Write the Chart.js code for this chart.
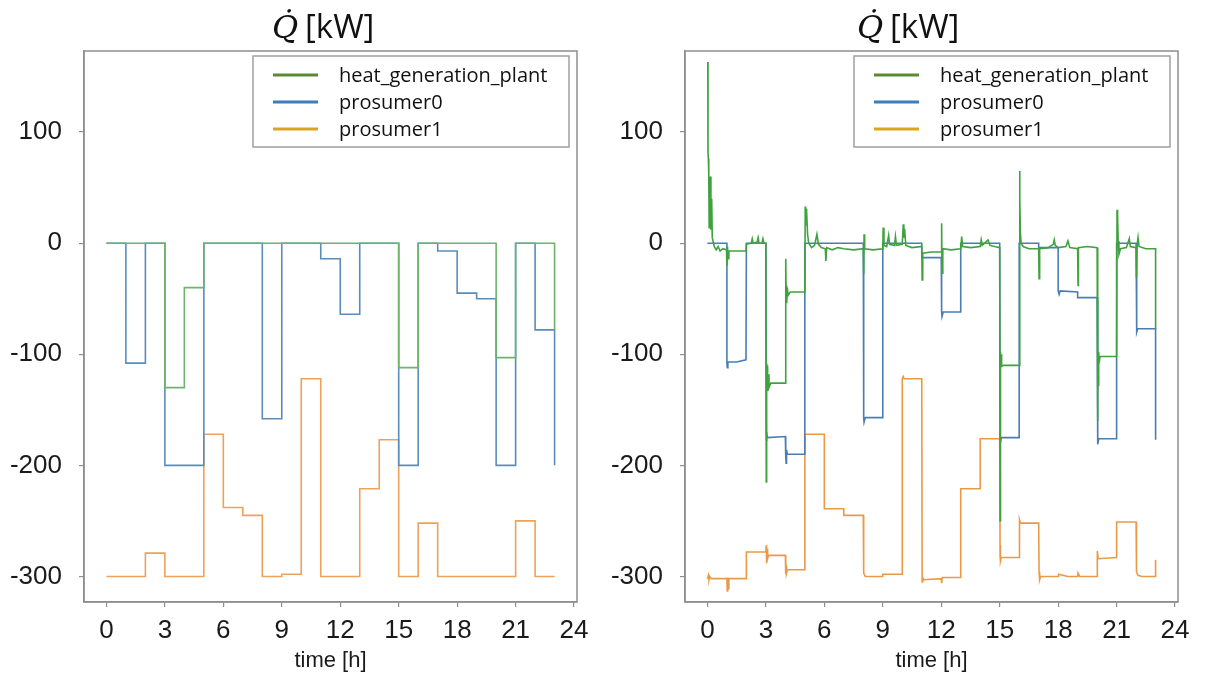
<!DOCTYPE html>
<html>
<head>
<meta charset="utf-8">
<script src="https://cdn.jsdelivr.net/npm/chart.js@4/dist/chart.umd.min.js"></script>
<style>
  html, body { margin: 0; padding: 0; background: #fff; }
  .panel { position: absolute; top: 0; height: 683px; }
</style>
</head>
<body>
<div class="panel" style="left:0;width:602px"><canvas id="leftChart"></canvas></div>
<div class="panel" style="left:602px;width:603px"><canvas id="rightChart"></canvas></div>
<script>
// series names
const labels = ['heat_generation_plant', 'prosumer0', 'prosumer1'];

// left panel: hourly setpoints (value holds until the next hour)
const hours = [0,1,2,3,4,5,6,7,8,9,10,11,12,13,14,15,16,17,18,19,20,21,22,23];
const leftPlant = [0,0,0,-130,-40,0,0,0,0,0,0,0,0,0,0,-112,0,0,0,0,-103,0,0,-78];
const leftP0 = [0,-108,0,-200,-200,0,0,0,-158,0,0,-14,-64,0,0,-200,0,-7,-45,-50,-200,0,-78,-200];
const leftP1 = [-300,-300,-279,-300,-300,-172,-238,-245,-300,-298,-122,-300,-300,-221,-177,-300,-252,-300,-300,-300,-300,-250,-300,-300];

// right panel: simulated values, [time h, Q kW]
const rightPlant = [
  [0.02,163],[0.03,82],[0.05,76],[0.07,61],[0.09,14],[0.11,57],[0.13,18],[0.15,60],[0.18,12],[0.22,40],[0.25,5],[0.3,1],[0.35,-3],[0.45,-6],[0.55,-3],[0.65,-7],[0.8,-5],[0.98,-6],
  [1.0,-20],[1.03,-3],[1.06,-14],[1.1,-7],[1.98,-7],
  [2.0,-1],[2.25,0],[2.3,4],[2.35,0],[2.55,1],[2.6,5],[2.65,0],[2.8,0],[2.85,4],[2.9,0],[3.0,0],
  [3.02,-215],[3.03,-108],[3.05,-136],[3.07,-110],[3.09,-133],[3.12,-118],[3.16,-130],[3.25,-126],[4.0,-126],
  [4.02,-14],[4.04,-50],[4.06,-38],[4.08,-54],[4.1,-40],[4.14,-47],[4.25,-44],[5.0,-44],
  [5.02,33],[5.04,16],[5.06,31],[5.08,19],[5.1,29],[5.14,8],[5.2,0],[5.35,-4],[5.5,-2],[5.62,8],[5.7,-1],[5.85,-4],[6.05,-5],[6.08,-16],[6.12,-4],[6.4,-6],[6.7,-4],[7.0,-5],[7.5,-6],[8.0,-5],
  [8.02,-28],[8.04,8],[8.07,-5],[8.5,-6],[9.0,-5],
  [9.02,14],[9.06,-2],[9.2,-3],[9.3,7],[9.35,-1],[9.6,-2],[9.65,6],[9.7,-2],[10.0,-1],[10.05,17],[10.08,5],[10.12,13],[10.18,-2],[10.5,-4],[11.0,-3],
  [11.02,-33],[11.05,-9],[11.5,-8],[12.0,-8],
  [12.02,18],[12.04,-27],[12.08,-5],[12.5,-6],[13.0,-5],[13.05,6],[13.1,-3],[13.5,-4],[14.0,-3],[14.05,3],[14.1,-2],[14.4,3],[14.5,-2],[15.0,-4],
  [15.02,-250],[15.03,-98],[15.05,-112],[15.07,-100],[15.1,-111],[15.2,-110],[16.0,-110],
  [16.02,65],[16.04,40],[16.06,10],[16.1,0],[16.2,-3],[16.5,-5],[17.0,-5],[17.02,-32],[17.05,-5],[17.5,-4],[17.75,-1],[17.8,3],[17.85,-2],[18.0,-4],[18.4,-3],[18.5,2],[18.6,-4],[19.0,-5],[19.02,-38],[19.04,-4],[19.5,-3],[20.0,-4],
  [20.02,-160],[20.04,-93],[20.06,-128],[20.08,-98],[20.1,-108],[20.15,-102],[21.0,-102],
  [21.02,30],[21.04,18],[21.06,25],[21.08,2],[21.12,-10],[21.2,-5],[21.5,-4],[21.65,4],[21.7,-3],[22.0,-4],[22.02,-31],[22.05,-2],[22.1,5],[22.15,-3],[22.5,-5],[23.0,-5],[23.0,-77]
];
const rightP0 = [
  [0.0,0],[1.0,0],[1.0,-108],[1.02,-112],[1.05,-107],[1.5,-107],[1.98,-105],[2.0,0],[3.0,0],
  [3.02,-170],[3.03,-178],[3.05,-171],[3.08,-175],[4.0,-174],
  [4.02,-192],[4.04,-198],[4.06,-186],[4.1,-190],[5.0,-190],[5.0,0],[8.0,0],
  [8.02,-157],[8.04,-161],[8.1,-157],[9.0,-157],[9.0,0],[11.0,0],[11.0,-13],[12.0,-13],
  [12.02,-62],[12.04,-66],[12.1,-62],[13.0,-62],[13.0,0],[15.0,0],
  [15.02,-174],[15.04,-179],[15.08,-175],[16.0,-175],[16.0,0],[17.0,0],[17.0,-4],[18.0,-4],[18.0,-43],[18.05,-46],[18.1,-43],[19.0,-44],[19.0,-49],[20.0,-49],
  [20.02,-175],[20.04,-181],[20.08,-176],[21.0,-176],[21.0,0],[22.0,0],[22.02,-74],[22.04,-80],[22.08,-77],[23.0,-77],[23.0,-177]
];
const rightP1 = [
  [0.0,-302],[0.05,-299],[0.08,-303],[0.12,-300],[0.2,-302],[1.0,-302],[1.02,-313],[1.04,-301],[1.06,-311],[1.1,-302],[2.0,-302],
  [2.0,-278],[3.0,-278],[3.02,-272],[3.04,-288],[3.06,-275],[3.09,-284],[3.14,-281],[4.0,-281],
  [4.02,-298],[4.04,-290],[4.06,-297],[4.1,-294],[5.0,-294],[5.0,-172],[6.0,-172],[6.0,-239],[7.0,-239],[7.0,-245],[8.0,-245],
  [8.02,-297],[8.1,-300],[9.0,-300],[9.0,-298],[10.0,-298],[10.0,-122],[10.05,-120],[10.1,-122],[11.0,-122],
  [11.02,-305],[11.05,-301],[11.1,-303],[12.0,-302],[12.02,-306],[12.05,-301],[13.0,-301],[13.0,-221],[14.0,-221],[14.0,-176],[15.0,-176],
  [15.02,-283],[15.03,-272],[15.05,-286],[15.08,-283],[16.0,-283],[16.0,-252],[16.03,-249],[16.06,-252],[17.0,-252],
  [17.02,-296],[17.05,-303],[17.1,-300],[18.0,-300],[18.02,-298],[18.5,-300],[19.0,-300],[19.02,-297],[19.1,-300],[20.0,-300],
  [20.0,-283],[20.02,-277],[20.05,-284],[21.0,-283],[21.0,-251],[22.0,-251],[22.02,-296],[22.1,-299],[22.3,-300],[23.0,-300],[23.0,-285]
];

// axes
const xTicks = [0,3,6,9,12,15,18,21,24];
const yTicks = [-300,-200,-100,0,100];

const legendColors = ['#5b8a32', '#3b7dbd', '#d9a521'];
const spine = '#8f8f8f';

// title, frame and legend box drawn on top of each panel
function decor(titleLeft) {
  return {
    id: 'decor',
    afterDraw(chart) {
      const ctx = chart.ctx, a = chart.chartArea;
      ctx.save();
      ctx.strokeStyle = spine;
      ctx.lineWidth = 1.5;
      ctx.strokeRect(a.left, a.top, a.right - a.left, a.bottom - a.top);

      ctx.fillStyle = '#111';
      ctx.textBaseline = 'alphabetic';
      ctx.textAlign = 'left';
      ctx.font = 'italic 32px "DejaVu Serif"';
      ctx.fillText('Q\u0307', titleLeft, 38);
      ctx.font = '33px "Open Sans"';
      ctx.fillText('[kW]', titleLeft + 33, 38);

      const w = 316, h = 91;
      const bx = a.right - 8 - w, by = a.top + 5;
      ctx.fillStyle = '#fff';
      ctx.fillRect(bx, by, w, h);
      ctx.strokeStyle = '#a0a0a0';
      ctx.lineWidth = 1.5;
      ctx.strokeRect(bx, by, w, h);
      ctx.font = '20px "Open Sans"';
      ctx.textBaseline = 'middle';
      chart.data.datasets.forEach((ds, i) => {
        const y = by + 19 + i * 27;
        ctx.strokeStyle = legendColors[i];
        ctx.lineWidth = 3;
        ctx.beginPath();
        ctx.moveTo(bx + 20, y);
        ctx.lineTo(bx + 65, y);
        ctx.stroke();
        ctx.fillStyle = '#111';
        ctx.fillText(ds.label, bx + 86, y + 1);
      });
      ctx.restore();
    }
  };
}

function makeOptions(yWidth, rightPad) {
  const tickFont = { family: 'Liberation Sans', size: 26 };
  return {
    responsive: true,
    maintainAspectRatio: false,
    animation: false,
    layout: { padding: { top: 51, right: rightPad, left: 0, bottom: 0 } },
    plugins: { legend: { display: false }, tooltip: { enabled: false }, title: { display: false } },
    elements: { point: { radius: 0 }, line: { tension: 0 } },
    scales: {
      x: {
        type: 'linear', min: -1.15, max: 24.15,
        afterBuildTicks: s => { s.ticks = xTicks.map(v => ({ value: v })); },
        afterFit: s => { s.height = 81; },
        ticks: { font: tickFont, color: '#1a1a1a', padding: 8, maxRotation: 0, autoSkip: false },
        grid: { display: true, drawOnChartArea: false, drawTicks: true, tickLength: 5, color: spine, lineWidth: 1.2 },
        border: { display: true, color: spine, width: 1.5 },
        title: { display: true, text: 'time [h]', color: '#1a1a1a', font: { family: 'Liberation Sans', size: 22 }, padding: { top: 0, bottom: 9 } }
      },
      y: {
        min: -323, max: 173,
        afterBuildTicks: s => { s.ticks = yTicks.map(v => ({ value: v })); },
        afterFit: s => { s.width = yWidth; },
        ticks: { font: tickFont, color: '#1a1a1a', padding: 17 },
        grid: { display: true, drawOnChartArea: false, drawTicks: true, tickLength: 5, color: spine, lineWidth: 1.2 },
        border: { display: true, color: spine, width: 1.5 }
      }
    }
  };
}

const leftColors = ['#6cb46c', '#5a8dbb', '#eba35c'];
const rightColors = ['#3fa23f', '#4a7db2', '#e99a48'];

new Chart(document.getElementById('leftChart'), {
  type: 'line',
  data: {
    datasets: [leftPlant, leftP0, leftP1].map((vals, i) => ({
      label: labels[i],
      data: hours.map((h, j) => ({ x: h, y: vals[j] })),
      stepped: 'before',
      borderColor: leftColors[i],
      borderWidth: 1.6,
      fill: false
    }))
  },
  options: makeOptions(84, 25),
  plugins: [decor(272)]
});

new Chart(document.getElementById('rightChart'), {
  type: 'line',
  data: {
    datasets: [rightPlant, rightP0, rightP1].map((pts, i) => ({
      label: labels[i],
      data: pts.map(p => ({ x: p[0], y: p[1] })),
      borderColor: rightColors[i],
      borderWidth: 1.6,
      fill: false
    }))
  },
  options: makeOptions(83, 27),
  plugins: [decor(255)]
});
</script>
</body>
</html>
